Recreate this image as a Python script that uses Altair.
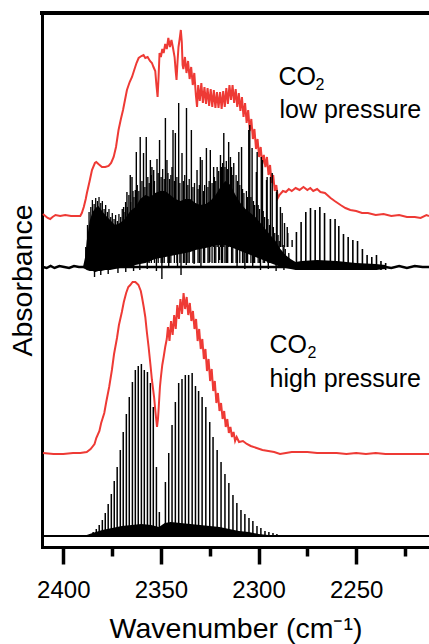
import altair as alt
import pandas as pd

FONT = "Liberation Sans"
RED = "#EE3A35"

# ---------------- data: x = wavenumber (cm-1), y = absorbance (arbitrary, offset units) ----------------
TOP_RED = [
    (2410.4, 333), (2409.2, 331), (2408.0, 329), (2406.7, 328), (2405.5, 330), (2404.0, 332),
    (2401.6, 331), (2399.0, 332), (2396.0, 331), (2393.5, 331), (2391.3, 331), (2390.5, 334),
    (2389.5, 340), (2388.5, 348), (2387.9, 354), (2386.5, 366), (2385.3, 377), (2383.8, 384),
    (2383.1, 385), (2382.0, 383), (2380.2, 380), (2378.5, 380), (2376.8, 381), (2375.5, 384),
    (2374.2, 390), (2373.0, 400), (2371.7, 417), (2370.5, 428), (2369.4, 437), (2368.4, 447),
    (2367.4, 457), (2366.0, 465), (2364.8, 470), (2363.5, 478), (2362.5, 484), (2361.4, 489),
    (2360.0, 491), (2358.9, 492), (2358.0, 489), (2356.8, 490), (2355.6, 486), (2354.6, 484),
    (2353.8, 480), (2352.9, 476), (2352.3, 462), (2351.7, 450), (2351.2, 470), (2350.7, 494),
    (2350.0, 490), (2349.3, 498), (2348.6, 494), (2347.8, 503), (2347.0, 498), (2346.2, 509),
    (2345.4, 500), (2344.6, 507), (2343.8, 499), (2343.0, 490), (2342.4, 475), (2342.0, 467),
    (2341.5, 485), (2341.0, 500), (2340.4, 508), (2339.8, 517), (2339.3, 505), (2338.9, 482),
    (2338.5, 478), (2337.7, 490), (2336.9, 474), (2336.1, 486), (2335.3, 468), (2334.5, 480),
    (2333.7, 462), (2332.9, 474), (2332.1, 452), (2331.5, 440), (2330.9, 462), (2330.1, 446),
    (2329.3, 464), (2328.5, 444), (2327.7, 460), (2326.9, 443), (2326.1, 459), (2325.3, 441),
    (2324.5, 458), (2323.7, 440), (2322.9, 457), (2322.1, 439), (2321.3, 455), (2320.5, 439),
    (2319.7, 455), (2318.9, 438), (2318.1, 456), (2317.3, 440), (2316.5, 459), (2315.7, 443),
    (2314.9, 462), (2314.1, 447), (2313.3, 462), (2312.5, 444), (2311.7, 458), (2310.9, 440),
    (2310.1, 454), (2309.3, 436), (2308.5, 450), (2307.7, 430), (2306.9, 444), (2306.1, 424),
    (2305.3, 437), (2304.5, 416), (2303.7, 428), (2302.9, 408), (2302.1, 418), (2301.3, 398),
    (2300.5, 408), (2299.7, 390), (2298.9, 400), (2298.1, 383), (2297.3, 392), (2296.5, 380),
    (2295.7, 390), (2294.9, 372), (2294.1, 382), (2293.3, 364), (2292.5, 372), (2291.7, 356),
    (2290.9, 362), (2290.1, 349), (2289.3, 352), (2287.5, 356), (2286.0, 355), (2284.5, 358),
    (2283.0, 356), (2281.0, 359), (2279.0, 357), (2277.0, 360), (2275.0, 357), (2273.5, 359),
    (2272.0, 356), (2270.0, 358), (2268.3, 355), (2266.0, 354), (2263.1, 349), (2261.0, 346),
    (2258.0, 342), (2255.5, 339), (2253.0, 337), (2250.0, 336), (2247.0, 334), (2244.0, 334),
    (2240.0, 332), (2236.0, 333), (2232.0, 331), (2228.0, 332), (2224.0, 330), (2220.0, 330),
    (2217.0, 329), (2214.0, 332), (2212.7, 331),
]

BOTTOM_RED = [
    (2410.4, 94), (2405.0, 93), (2400.0, 93), (2395.0, 94), (2391.3, 94), (2388.0, 95),
    (2386.0, 98), (2384.0, 103), (2383.1, 109), (2381.5, 116), (2380.6, 124), (2379.0, 134),
    (2378.0, 145), (2376.5, 160), (2375.1, 177), (2374.0, 193), (2372.5, 209), (2371.5, 222),
    (2370.0, 235), (2369.0, 245), (2367.8, 254), (2366.7, 260), (2365.7, 262), (2364.5, 265),
    (2363.1, 265), (2362.0, 263), (2361.5, 262), (2360.3, 256), (2359.7, 250), (2358.8, 240),
    (2358.0, 230), (2357.2, 215), (2356.3, 200), (2355.4, 183), (2354.6, 167), (2353.5, 150),
    (2352.9, 137), (2352.0, 120), (2351.5, 128), (2351.2, 137), (2350.5, 160), (2350.0, 170),
    (2349.3, 182), (2348.6, 190), (2347.8, 200), (2347.0, 208), (2346.4, 220), (2345.6, 206),
    (2344.8, 226), (2344.0, 212), (2343.2, 232), (2342.4, 218), (2341.6, 242), (2340.8, 228),
    (2340.0, 248), (2339.2, 233), (2338.4, 254), (2337.6, 238), (2336.8, 250), (2336.0, 232),
    (2335.2, 244), (2334.4, 226), (2333.6, 236), (2332.8, 218), (2332.0, 228), (2331.2, 206),
    (2330.4, 218), (2329.6, 198), (2328.8, 208), (2328.0, 188), (2327.2, 198), (2326.4, 176),
    (2325.6, 188), (2324.8, 166), (2324.0, 178), (2323.2, 156), (2322.4, 166), (2321.6, 144),
    (2320.8, 154), (2320.0, 136), (2319.2, 144), (2318.4, 128), (2317.6, 136), (2316.8, 120),
    (2316.0, 128), (2315.2, 114), (2314.4, 120), (2313.6, 110), (2312.8, 115), (2312.0, 106),
    (2311.2, 110), (2310.0, 105), (2308.0, 106), (2306.0, 103), (2304.0, 101), (2301.0, 99),
    (2298.0, 97), (2295.0, 96), (2292.0, 95), (2289.0, 93), (2286.0, 94), (2283.0, 95),
    (2279.0, 95), (2275.0, 95), (2270.0, 94), (2265.0, 94), (2260.0, 94), (2255.0, 93),
    (2250.0, 94), (2245.0, 93), (2240.0, 94), (2235.0, 93), (2230.0, 93), (2225.0, 93),
    (2220.0, 93), (2215.0, 93), (2212.7, 93),
]

# low-pressure black spectrum
TOP_BLACK_BASE = [
    (2410.4, 280), (2408.5, 279), (2406.5, 281), (2404.5, 279), (2402.0, 281), (2399.5, 280),
    (2397.0, 279), (2394.5, 281), (2392.0, 280), (2389.8, 280), (2235.0, 280), (2232.0, 279),
    (2228.0, 281), (2224.0, 279), (2220.0, 281), (2216.0, 280), (2212.7, 280),
]
# (wavenumber, lower edge, upper edge) of the dense core of unresolved lines
TOP_BLACK_ENV = [
    (2389.8, 279, 281), (2388.8, 278, 290), (2388.0, 277, 306), (2386.5, 276, 326),
    (2385.0, 276, 335), (2383.5, 275, 339), (2382.0, 276, 341), (2380.5, 276, 337),
    (2378.5, 277, 332), (2376.0, 277, 327), (2373.5, 278, 322), (2371.0, 279, 324),
    (2368.5, 279, 328), (2365.7, 280, 336), (2363.0, 282, 340), (2360.6, 283, 348),
    (2358.0, 284, 352), (2355.4, 286, 350), (2353.0, 288, 354), (2350.3, 289, 356),
    (2347.7, 290, 356), (2345.2, 291, 352), (2342.6, 292, 348), (2340.0, 293, 346),
    (2337.5, 294, 348), (2335.0, 295, 348), (2332.3, 297, 344), (2329.8, 298, 342),
    (2327.2, 299, 343), (2324.7, 300, 346), (2322.0, 302, 352), (2319.5, 302, 360),
    (2317.0, 302, 366), (2314.4, 300, 362), (2311.8, 298, 352), (2309.3, 296, 344),
    (2306.7, 294, 338), (2304.1, 292, 334), (2301.6, 290, 330), (2299.0, 288, 324),
    (2296.5, 286, 318), (2294.0, 284, 312), (2291.3, 282, 306), (2288.8, 280, 298),
    (2286.2, 279, 292), (2283.6, 278, 288), (2281.0, 277, 285), (2278.0, 277, 286),
    (2270.0, 277, 287), (2260.0, 277, 286), (2250.0, 277, 284), (2240.0, 277, 283),
    (2235.0, 278, 282),
]
# medium-height lines rising out of the dense core (wavenumber, peak)
TOP_BLACK_MID = [
    (2388.5, 300), (2387.6, 322), (2386.8, 335), (2385.9, 340), (2385.1, 347), (2384.2, 343),
    (2383.4, 349), (2382.5, 346), (2381.7, 350), (2380.8, 344), (2380.0, 346), (2379.1, 338),
    (2378.3, 342), (2377.4, 335), (2376.6, 338), (2375.7, 330), (2374.9, 334), (2374.0, 328),
    (2373.2, 332), (2372.3, 326), (2371.5, 333), (2370.6, 330), (2369.8, 338), (2368.9, 335),
    (2368.1, 345), (2367.2, 340), (2366.4, 352), (2365.5, 345), (2364.3, 356), (2363.8, 350),
    (2362.1, 362), (2361.3, 356), (2359.7, 366), (2358.2, 360), (2356.7, 370), (2356.0, 364),
    (2354.9, 372), (2353.3, 366), (2351.4, 374), (2349.9, 370), (2349.1, 378), (2348.3, 368),
    (2346.4, 374), (2345.6, 368), (2344.9, 372), (2343.1, 366), (2341.8, 370), (2340.3, 364),
    (2338.5, 366), (2337.8, 372), (2336.2, 362), (2335.5, 368), (2333.6, 360), (2332.8, 364),
    (2331.0, 358), (2330.3, 362), (2328.2, 356), (2327.6, 362), (2325.9, 360), (2325.3, 366),
    (2323.8, 364), (2322.6, 370), (2321.9, 366), (2320.4, 376), (2319.0, 380), (2318.4, 384),
    (2317.2, 380), (2316.5, 386), (2315.8, 378), (2313.8, 380), (2313.2, 372), (2311.5, 372),
    (2310.8, 366), (2309.6, 362), (2308.2, 358), (2307.5, 354), (2306.2, 356), (2305.6, 350),
    (2303.9, 350), (2302.6, 346), (2302.0, 342), (2300.2, 342), (2299.5, 338), (2297.6, 336),
    (2296.9, 330), (2295.2, 328), (2294.4, 322), (2292.4, 320), (2291.7, 314), (2290.0, 312),
    (2289.4, 306), (2287.4, 302), (2286.3, 298), (2284.5, 294),
]
TOP_MID_FOOT = 284
# tall individual rotational lines (wavenumber, peak)
TOP_BLACK_SPIKES = [
    (2369.1, 340), (2367.4, 355), (2365.7, 372), (2364.8, 370), (2363.1, 357), (2362.6, 395),
    (2360.6, 410), (2358.9, 394), (2357.5, 410), (2355.4, 387), (2354.6, 380), (2353.7, 377),
    (2352.0, 388), (2350.7, 407), (2347.7, 429), (2346.9, 387), (2344.3, 380), (2343.8, 417),
    (2342.6, 414), (2340.9, 444), (2339.2, 394), (2336.9, 439), (2334.4, 417), (2331.5, 377),
    (2329.8, 390), (2328.9, 387), (2326.7, 399), (2324.7, 397), (2323.0, 380), (2321.2, 380),
    (2319.5, 392), (2317.8, 414), (2315.3, 405), (2314.4, 390), (2312.7, 384), (2310.1, 395),
    (2308.7, 400), (2305.0, 417), (2304.5, 422), (2303.3, 399), (2301.1, 375), (2300.7, 395),
    (2298.6, 390), (2298.0, 387), (2295.9, 367), (2295.6, 370), (2293.9, 370), (2293.0, 374),
    (2290.8, 355), (2290.5, 357), (2288.8, 340), (2287.9, 334), (2286.7, 324), (2285.3, 320),
    (2285.0, 314), (2282.8, 307),
]
TOP_SPIKE_FOOT = 300
# downward excursions below the dense band (wavenumber, minimum)
TOP_BLACK_DIPS = [
    (2384.0, 270), (2380.8, 272), (2377.0, 273), (2372.0, 274), (2368.0, 275), (2364.0, 276),
    (2360.8, 277), (2357.0, 278), (2352.3, 276), (2349.5, 268), (2346.0, 280), (2341.5, 279),
    (2339.7, 272), (2337.0, 282), (2333.0, 283), (2329.5, 281), (2325.0, 285), (2320.0, 287),
    (2316.0, 284), (2311.0, 280), (2307.0, 278), (2303.0, 279), (2299.0, 277), (2295.0, 278),
    (2291.0, 276), (2287.0, 277),
]
TOP_DIP_FOOT = 300
# hot-band lines on the low-wavenumber side (wavenumber, peak)
TOP_HOT_LINES = [
    (2280.6, 315), (2278.2, 325), (2275.8, 335), (2273.4, 339), (2271.0, 337), (2268.6, 340),
    (2266.2, 334), (2263.2, 328), (2260.8, 328), (2258.9, 321), (2256.5, 313), (2254.1, 310),
    (2251.7, 307), (2249.3, 306), (2246.8, 298), (2244.4, 292), (2242.0, 290), (2239.6, 292),
    (2237.3, 286), (2234.9, 284),
]
TOP_HOT_FOOT = 277

# high-pressure black spectrum
BOTTOM_BLACK_BASE = [(2410.4, 11), (2300.0, 11), (2212.7, 11)]
BOTTOM_BLACK_LOW = [
    (2392.0, 11), (2388.0, 12), (2385.0, 14), (2380.0, 17), (2375.0, 19), (2370.0, 21),
    (2365.0, 22), (2360.0, 23), (2355.0, 22), (2351.0, 20), (2348.0, 24), (2345.0, 25),
    (2340.0, 24), (2335.0, 23), (2330.0, 22), (2325.0, 21), (2320.0, 20), (2315.0, 18),
    (2310.0, 16), (2305.0, 15), (2300.0, 13), (2295.0, 12), (2290.0, 11.5), (2285.0, 11),
]
BOTTOM_LINES = [
    (2386.2, 13), (2384.7, 15), (2383.1, 18), (2381.6, 22), (2380.0, 27), (2378.5, 34),
    (2377.0, 43), (2375.4, 53), (2373.9, 66), (2372.4, 80), (2370.8, 97), (2369.3, 115),
    (2367.7, 133), (2366.2, 150), (2364.6, 165), (2363.1, 177), (2361.6, 181), (2360.0, 183),
    (2358.5, 177), (2356.9, 175), (2355.4, 164), (2353.9, 140), (2352.3, 80), (2350.8, 35),
    (2347.7, 65), (2346.0, 94), (2344.3, 122), (2342.6, 145), (2340.9, 164), (2339.2, 168),
    (2337.5, 172), (2335.8, 172), (2334.0, 174), (2332.3, 161), (2330.7, 156), (2328.9, 150),
    (2327.0, 140), (2325.0, 125), (2323.3, 110), (2321.2, 97), (2319.2, 85), (2317.2, 73),
    (2315.2, 64), (2313.1, 52), (2311.1, 44), (2309.0, 37), (2307.0, 33), (2304.9, 29),
    (2302.9, 26), (2300.8, 21), (2298.8, 19), (2296.7, 16), (2294.7, 15), (2292.6, 14),
    (2290.6, 13), (2288.5, 12),
]
BOTTOM_FOOT = 11

X_DOMAIN = [2410.9, 2212.7]
Y_DOMAIN = [0, 534]
X_TICKS = [2400, 2375, 2350, 2325, 2300, 2275, 2250, 2225]

LABELS = [
    (2289.8, 462, "CO", 25), (2270.8, 457, "2", 16), (2289.3, 429, "low pressure", 25),
    (2294.4, 194, "CO", 25), (2274.9, 189, "2", 16), (2294.4, 160, "high pressure", 25),
]


# ---------------- tables ----------------
def pairs(rows):
    return pd.DataFrame(rows, columns=["wn", "a"])


top_red = pairs(TOP_RED)
bottom_red = pairs(BOTTOM_RED)
top_base = pairs(TOP_BLACK_BASE)
top_env = pd.DataFrame(TOP_BLACK_ENV, columns=["wn", "a2", "a"])
top_mid = pairs(TOP_BLACK_MID).assign(a2=TOP_MID_FOOT)
top_spikes = pairs(TOP_BLACK_SPIKES).assign(a2=TOP_SPIKE_FOOT)
top_dips = pairs(TOP_BLACK_DIPS).assign(a2=TOP_DIP_FOOT)
top_hot = pairs(TOP_HOT_LINES).assign(a2=TOP_HOT_FOOT)
bot_base = pairs(BOTTOM_BLACK_BASE)
bot_low = pairs(BOTTOM_BLACK_LOW).assign(a2=BOTTOM_FOOT)
bot_lines = pairs(BOTTOM_LINES).assign(a2=BOTTOM_FOOT)
labels = pd.DataFrame(LABELS, columns=["wn", "a", "text", "size"])

x_axis = alt.Axis(
    values=X_TICKS, format="d",
    labelExpr="datum.value % 50 === 0 ? datum.label : ''",
    tickSize={"condition": {"test": "datum.value % 50 === 0", "value": 17}, "value": 9},
    tickWidth=3.5, tickColor="black",
    domainWidth=3, domainColor="black", domainCap="square",
    labelFont=FONT, labelFontSize=24, labelColor="black", labelPadding=14,
    title="Wavenumber (cm⁻¹)", titleFont=FONT, titleFontSize=28.5,
    titleFontWeight="normal", titleColor="black", titlePadding=12,
    grid=False,
)
y_axis = alt.Axis(
    ticks=False, labels=False, grid=False,
    domainWidth=3, domainColor="black", domainCap="square",
    title="Absorbance", titleFont=FONT, titleFontSize=28.5,
    titleFontWeight="normal", titleColor="black", titlePadding=5,
)
xs = alt.Scale(domain=X_DOMAIN, nice=False, zero=False)
ys = alt.Scale(domain=Y_DOMAIN, nice=False, zero=False)


def X():
    return alt.X("wn:Q", scale=xs, axis=x_axis)


def Y():
    return alt.Y("a:Q", scale=ys, axis=y_axis)


def rules(df, width):
    return alt.Chart(df).mark_rule(color="black", strokeWidth=width, clip=True).encode(
        x=X(), y=Y(), y2="a2:Q")


red_top = alt.Chart(top_red).mark_line(color=RED, strokeWidth=2, clip=True).encode(x=X(), y=Y(), order="wn:Q")
red_bot = alt.Chart(bottom_red).mark_line(color=RED, strokeWidth=2, clip=True).encode(x=X(), y=Y(), order="wn:Q")

blk_top_base = alt.Chart(top_base).mark_line(color="black", strokeWidth=2.5, clip=True).encode(x=X(), y=Y(), order="wn:Q")
blk_top_env = alt.Chart(top_env).mark_area(color="black", opacity=1, clip=True).encode(
    x=X(), y=Y(), y2=alt.Y2("a2:Q"))
blk_top_mid = rules(top_mid, 1.3)
blk_top_spk = rules(top_spikes, 1.4)
blk_top_dip = rules(top_dips, 1.4)
blk_top_hot = rules(top_hot, 1.6)

blk_bot_base = alt.Chart(bot_base).mark_line(color="black", strokeWidth=2.2, clip=True).encode(x=X(), y=Y(), order="wn:Q")
blk_bot_low = alt.Chart(bot_low).mark_area(color="black", opacity=1, clip=True).encode(
    x=X(), y=Y(), y2=alt.Y2("a2:Q"))
blk_bot_lines = rules(bot_lines, 1.5)

top_border = alt.Chart(top_base).mark_rule(color="black", strokeWidth=3).encode(
    x=alt.value(-1.5), x2=alt.value(387), y=alt.value(0)
)

big_text = alt.Chart(labels[labels["size"] > 20]).mark_text(
    align="left", baseline="alphabetic", font=FONT, fontSize=25, color="black"
).encode(x=X(), y=Y(), text="text:N")
small_text = alt.Chart(labels[labels["size"] < 20]).mark_text(
    align="left", baseline="alphabetic", font=FONT, fontSize=16, color="black"
).encode(x=X(), y=Y(), text="text:N")

chart = alt.layer(
    red_top, red_bot,
    blk_top_base, blk_top_env, blk_top_mid, blk_top_spk, blk_top_dip, blk_top_hot,
    blk_bot_base, blk_bot_low, blk_bot_lines,
    top_border, big_text, small_text,
).properties(
    width=387, height=534,
    padding={"left": 42, "top": 13, "right": 0, "bottom": 97},
    autosize=alt.AutoSizeParams(type="none"),
    background="white",
).configure_view(stroke=None)

chart.save("out.html", embed_options={"renderer": "svg", "actions": False})
